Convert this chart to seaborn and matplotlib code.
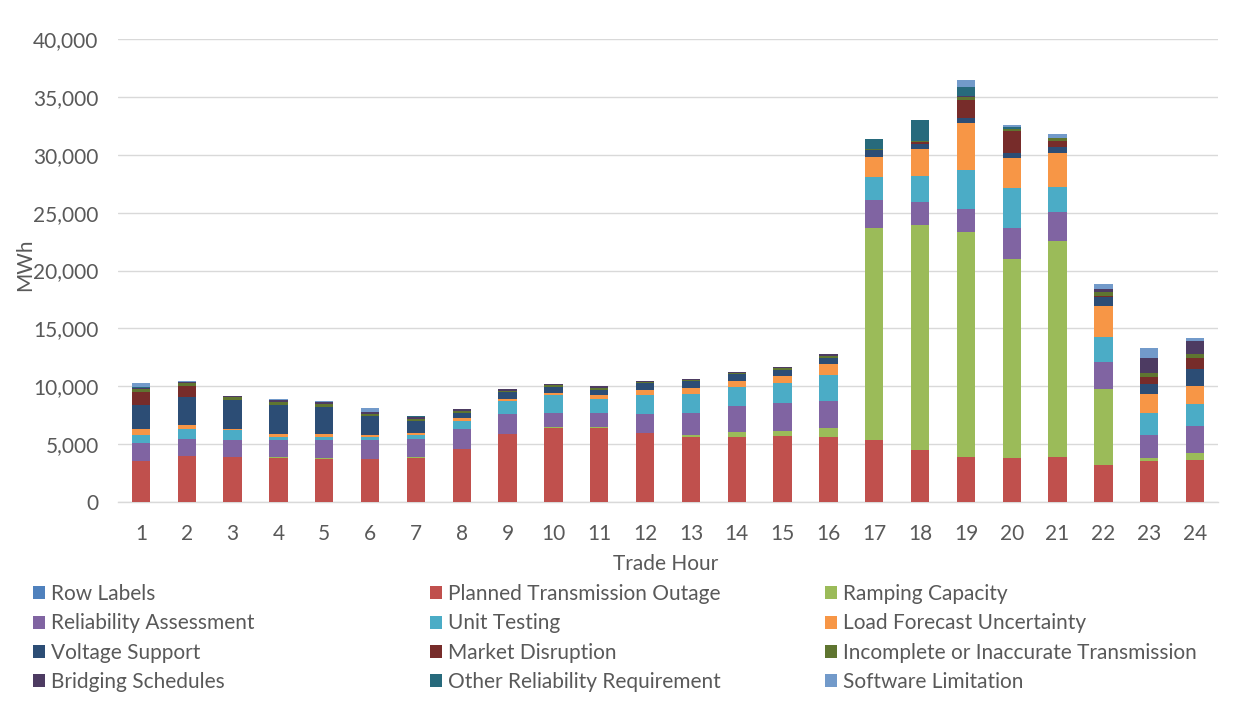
import numpy as np
import pandas as pd
import matplotlib
matplotlib.use("Agg")
import matplotlib.pyplot as plt
from matplotlib.patches import Patch
from matplotlib.ticker import FuncFormatter
import seaborn as sns

hours = [str(h) for h in range(1, 25)]

row_labels = [0] * 24
planned = [3500, 4000, 3890, 3800, 3715, 3715, 3800, 4605, 5875, 6360, 6360, 5927,
           5581, 5642, 5668, 5581, 5383, 4519, 3914, 3827, 3914, 3219, 3538, 3625]
ramping = [0, 0, 0, 100, 115, 0, 100, 0, 0, 90, 90, 0,
           173, 406, 492, 779, 18315, 19386, 19387, 17144, 18610, 6585, 259, 569]
reliability = [1640, 1470, 1467, 1420, 1490, 1640, 1570, 1730, 1730, 1265, 1265, 1676,
               1961, 2272, 2420, 2332, 2416, 2037, 2037, 2727, 2529, 2330, 1951, 2330]
unit_testing = [665, 860, 864, 320, 320, 285, 285, 690, 1090, 1555, 1210, 1642,
                1642, 1616, 1727, 2246, 1959, 2218, 3314, 3400, 2157, 2131, 1959, 1959]
load_forecast = [490, 320, 90, 200, 200, 110, 205, 200, 210, 115, 285, 397,
                 458, 484, 605, 950, 1726, 2330, 4056, 2615, 2960, 2650, 1639, 1554]
voltage = [2074, 2420, 2540, 2540, 2330, 1640, 1065, 467, 570, 550, 493, 605,
           605, 605, 458, 554, 604, 405, 483, 406, 466, 777, 889, 1441]
market = [1150, 976, 0, 0, 0, 0, 0, 0, 0, 0, 0, 0,
          0, 0, 0, 0, 0, 200, 1553, 1924, 518, 115, 578, 975]
incomplete = [285, 200, 200, 285, 290, 250, 175, 172, 120, 172, 172, 120,
              120, 86, 173, 198, 90, 86, 259, 147, 259, 345, 346, 371]
bridging = [60, 90, 120, 115, 170, 130, 170, 140, 170, 115, 147, 85,
            87, 86, 147, 113, 0, 0, 80, 0, 0, 285, 1294, 1070]
other_rel = [40, 0, 0, 0, 0, 0, 80, 0, 0, 0, 0, 0,
             0, 0, 0, 0, 860, 1812, 800, 224, 0, 0, 0, 0]
software = [390, 90, 0, 120, 115, 310, 0, 0, 0, 0, 0, 0,
            0, 0, 0, 0, 0, 0, 600, 121, 345, 405, 863, 259]

series_names = ["Row Labels", "Planned Transmission Outage", "Ramping Capacity",
                "Reliability Assessment", "Unit Testing", "Load Forecast Uncertainty",
                "Voltage Support", "Market Disruption", "Incomplete or Inaccurate Transmission",
                "Bridging Schedules", "Other Reliability Requirement", "Software Limitation"]
series_values = [row_labels, planned, ramping, reliability, unit_testing, load_forecast,
                 voltage, market, incomplete, bridging, other_rel, software]
series_colors = ["#4F81BD", "#C0504D", "#9BBB59", "#8064A2", "#4BACC6", "#F79646",
                 "#2C4D75", "#772C2A", "#5F7530", "#4D3B62", "#276A7C", "#729ACA"]

sns.set_theme(style="white")
plt.rcParams["font.family"] = ["Lato", "DejaVu Sans"]
text_color = "#595959"
fs = 15

fig = plt.figure(figsize=(12.33, 7.01), dpi=100)
W, H = 1233, 701
ax = fig.add_axes([118 / W, 1 - 502 / H, (1218 - 118) / W, (502 - 39) / H])

# cumulative stacks, drawn from the top layer down
vals = np.array(series_values, dtype=float)
cum = np.cumsum(vals, axis=0)
for i in range(len(series_names) - 1, -1, -1):
    df = pd.DataFrame({"hour": hours, "value": cum[i]})
    sns.barplot(data=df, x="hour", y="value", order=hours, color=series_colors[i],
                saturation=1, width=0.4, errorbar=None, linewidth=0, ax=ax, zorder=3)

ax.set_xlim(-0.5, 23.5)
ax.set_ylim(0, 40000)
ax.set_yticks(np.arange(0, 40001, 5000))
ax.yaxis.set_major_formatter(FuncFormatter(lambda v, p: f"{int(v):,}"))
ax.grid(axis="y", color="#D9D9D9", linewidth=1, zorder=0)
ax.set_axisbelow(True)
for s in ["left", "right", "top"]:
    ax.spines[s].set_visible(False)
ax.spines["bottom"].set_color("#D9D9D9")
ax.spines["bottom"].set_linewidth(1)
ax.tick_params(axis="both", length=0, labelsize=fs, colors=text_color)
ax.tick_params(axis="y", pad=14)
ax.tick_params(axis="x", pad=16)
ax.set_xlabel("")
ax.set_ylabel("")

fig.text(666 / W, 1 - 564 / H, "Trade Hour", ha="center", va="center",
         fontsize=fs, color=text_color)
fig.text(25 / W, 1 - 265 / H, "MWh", ha="center", va="center", rotation=90,
         fontsize=fs, color=text_color)

handles = [Patch(facecolor=c, edgecolor="none", label=n)
           for n, c in zip(series_names, series_colors)]
col_x = [33, 430, 825]
for ci, x0 in enumerate(col_x):
    hs = handles[ci::3]
    leg = fig.legend(handles=hs, labels=[h.get_label() for h in hs],
                     loc="upper left", bbox_to_anchor=(x0 / W, 1 - 584 / H),
                     frameon=False, fontsize=fs, borderpad=0, borderaxespad=0,
                     handlelength=0.58, handleheight=0.58, handletextpad=0.3,
                     labelspacing=0.45)
    for t in leg.get_texts():
        t.set_color(text_color)

fig.savefig("out.png", dpi=100)
